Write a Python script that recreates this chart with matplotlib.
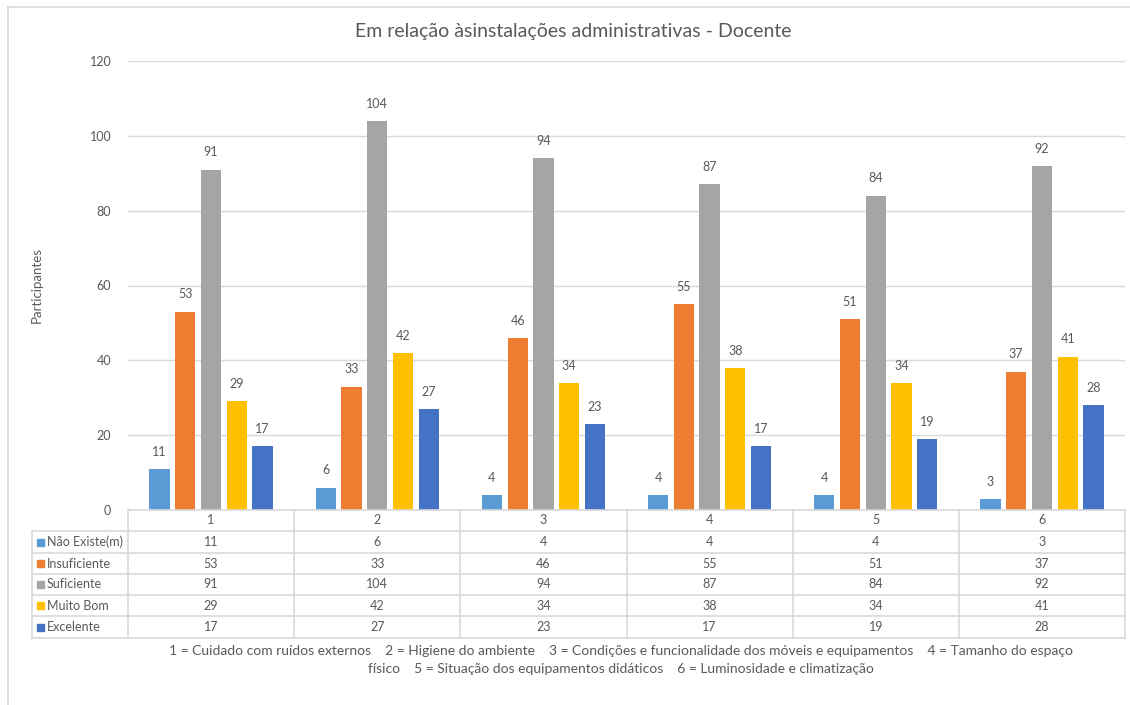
import matplotlib
matplotlib.use("Agg")
import matplotlib.pyplot as plt
from matplotlib.lines import Line2D
from matplotlib.patches import Rectangle
import numpy as np

plt.rcParams['font.family'] = ['Lato', 'DejaVu Sans']

title = "Em relação àsinstalações administrativas - Docente"
categories = ["1", "2", "3", "4", "5", "6"]
series_names = ["Não Existe(m)", "Insuficiente", "Suficiente", "Muito Bom", "Excelente"]
nao_existe = [11, 6, 4, 4, 4, 3]
insuficiente = [53, 33, 46, 55, 51, 37]
suficiente = [91, 104, 94, 87, 84, 92]
muito_bom = [29, 42, 34, 38, 34, 41]
excelente = [17, 27, 23, 17, 19, 28]
series = [nao_existe, insuficiente, suficiente, muito_bom, excelente]
colors = ["#5B9BD5", "#ED7D31", "#A5A5A5", "#FFC000", "#4472C4"]
y_label = "Participantes"
y_ticks = [0, 20, 40, 60, 80, 100, 120]
footnote1 = "1 = Cuidado com ruídos externos    2 = Higiene do ambiente    3 = Condições e funcionalidade dos móveis e equipamentos    4 = Tamanho do espaço"
footnote2 = "físico    5 = Situação dos equipamentos didáticos    6 = Luminosidade e climatização"

W, H = 1130, 705
fig = plt.figure(figsize=(W / 100, H / 100), dpi=100)
TXT = "#595959"
GRID = "#D9D9D9"

def fx(px):
    return px / W

def fy(py):
    return 1 - py / H

# plot area
x0, x1, ytop, ybot = 128, 1125, 61, 510
ax = fig.add_axes([fx(x0), fy(ybot), fx(x1 - x0), (ybot - ytop) / H])
n = len(categories)
ns = len(series)
step = 0.155
bw = 0.122
xs = np.arange(n)
for i, (vals, c) in enumerate(zip(series, colors)):
    pos = xs + (i - (ns - 1) / 2) * step
    ax.bar(pos, vals, width=bw, color=c, zorder=3)
    for p, v in zip(pos, vals):
        ax.text(p, v + 3, str(v), ha="center", va="bottom", fontsize=9, color=TXT)
ax.set_xlim(-0.5, n - 0.5)
ax.set_ylim(0, 120)
ax.set_yticks(y_ticks)
ax.set_yticklabels([str(t) for t in y_ticks], fontsize=9, color=TXT)
ax.tick_params(axis="y", length=0, pad=12)
ax.set_xticks([])
ax.yaxis.grid(True, color=GRID, linewidth=1, zorder=0)
for s in ax.spines.values():
    s.set_visible(False)

# y label
fig.text(fx(37), fy(285), y_label, rotation=90, ha="center", va="center", fontsize=9.5, color=TXT)

# title
fig.text(fx(573), fy(32), title, ha="center", va="center", fontsize=14, color=TXT)

# outer frame (left and top)
fig.add_artist(Line2D([fx(8), fx(8)], [fy(7), fy(705)], color=GRID, lw=1.2))
fig.add_artist(Line2D([fx(8), fx(1130)], [fy(7), fy(7)], color=GRID, lw=1.2))

# data table
row_edges = [510, 531, 553, 574, 595, 616, 638]
col_edges = [x0 + k * (x1 - x0) / n for k in range(n + 1)]
legend_left = 32
fig.add_artist(Line2D([fx(x0), fx(x1)], [fy(510), fy(510)], color=GRID, lw=1.2))
for r in row_edges[1:]:
    fig.add_artist(Line2D([fx(legend_left), fx(x1)], [fy(r), fy(r)], color=GRID, lw=1.2))
for cx in col_edges:
    fig.add_artist(Line2D([fx(cx), fx(cx)], [fy(510), fy(638)], color=GRID, lw=1.2))
fig.add_artist(Line2D([fx(legend_left), fx(legend_left)], [fy(531), fy(638)], color=GRID, lw=1.2))

for k, cat in enumerate(categories):
    cxm = (col_edges[k] + col_edges[k + 1]) / 2
    fig.text(fx(cxm), fy(520.5), cat, ha="center", va="center", fontsize=9, color=TXT)
for i, (name, vals, c) in enumerate(zip(series_names, series, colors)):
    ry = (row_edges[i + 1] + row_edges[i + 2]) / 2
    fig.add_artist(Rectangle((fx(37), fy(ry + 3.5)), fx(7), 7 / H, color=c))
    fig.text(fx(47), fy(ry), name, ha="left", va="center", fontsize=9, color=TXT)
    for k, v in enumerate(vals):
        cxm = (col_edges[k] + col_edges[k + 1]) / 2
        fig.text(fx(cxm), fy(ry), str(v), ha="center", va="center", fontsize=9, color=TXT)

# footnote
fig.text(fx(621), fy(651), footnote1, ha="center", va="center", fontsize=10, color=TXT)
fig.text(fx(621), fy(669), footnote2, ha="center", va="center", fontsize=10, color=TXT)

fig.savefig("out.png", dpi=100, facecolor="white")
